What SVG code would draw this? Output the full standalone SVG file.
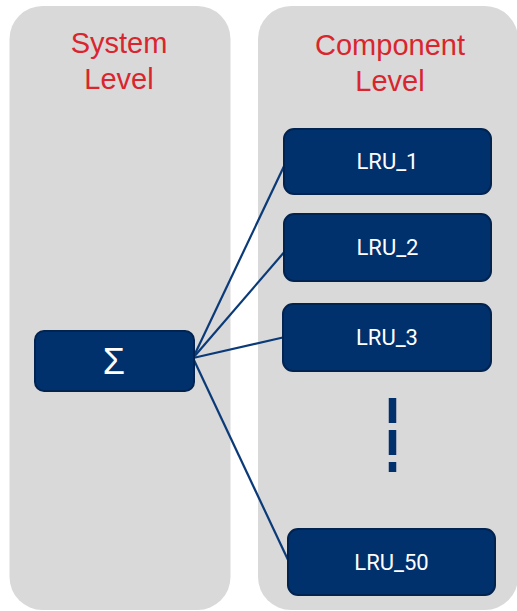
<svg xmlns="http://www.w3.org/2000/svg" width="517" height="611" viewBox="0 0 517 611">
  <style>
    .panel { fill: #d9d9d9; }
    .title { font-family: "Liberation Sans", Arial, sans-serif; font-size: 29px; fill: #d9262e; text-anchor: middle; }
    .box { fill: #00316d; stroke: #002350; stroke-width: 2; }
    .lbl { font-family: Roboto, "Liberation Sans", sans-serif; font-size: 22px; fill: #ffffff; text-anchor: middle; }
    .conn { stroke: #0a3a78; stroke-width: 2.2; fill: none; }
  </style>
  <rect width="517" height="611" fill="#ffffff"/>
  <g id="panel-system">
    <rect class="panel" x="9.5" y="6" width="221" height="604" rx="33" ry="33"/>
    <text class="title" x="119" y="53">System</text>
    <text class="title" x="119" y="89">Level</text>
  </g>
  <g id="panel-component">
    <rect class="panel" x="258" y="6" width="260" height="604" rx="33" ry="33"/>
    <text class="title" x="390" y="55">Component</text>
    <text class="title" x="390" y="91">Level</text>
  </g>
  <g id="connectors">
    <line class="conn" x1="193" y1="358" x2="286" y2="162"/>
    <line class="conn" x1="193" y1="358" x2="286" y2="250"/>
    <line class="conn" x1="193" y1="358" x2="285" y2="337"/>
    <line class="conn" x1="193" y1="358" x2="289" y2="562"/>
    <line x1="392.5" y1="398" x2="392.5" y2="472" stroke="#00316d" stroke-width="7.5" stroke-dasharray="25 7"/>
  </g>
  <g id="sigma">
    <rect class="box" x="35" y="331" width="159" height="60" rx="9" ry="9"/>
    <text x="114" y="374" font-family="Liberation Sans, Arial, sans-serif" font-size="36" fill="#ffffff" text-anchor="middle">Σ</text>
  </g>
  <g id="lru1">
    <rect class="box" x="284" y="129" width="207" height="65" rx="10" ry="10"/>
    <text class="lbl" x="387.5" y="169">LRU_1</text>
  </g>
  <g id="lru2">
    <rect class="box" x="284" y="214" width="207" height="67" rx="10" ry="10"/>
    <text class="lbl" x="387.5" y="255">LRU_2</text>
  </g>
  <g id="lru3">
    <rect class="box" x="283" y="304" width="208" height="67" rx="10" ry="10"/>
    <text class="lbl" x="387" y="345">LRU_3</text>
  </g>
  <g id="lru50">
    <rect class="box" x="288" y="529" width="207" height="66" rx="10" ry="10"/>
    <text class="lbl" x="391.5" y="570">LRU_50</text>
  </g>
</svg>
